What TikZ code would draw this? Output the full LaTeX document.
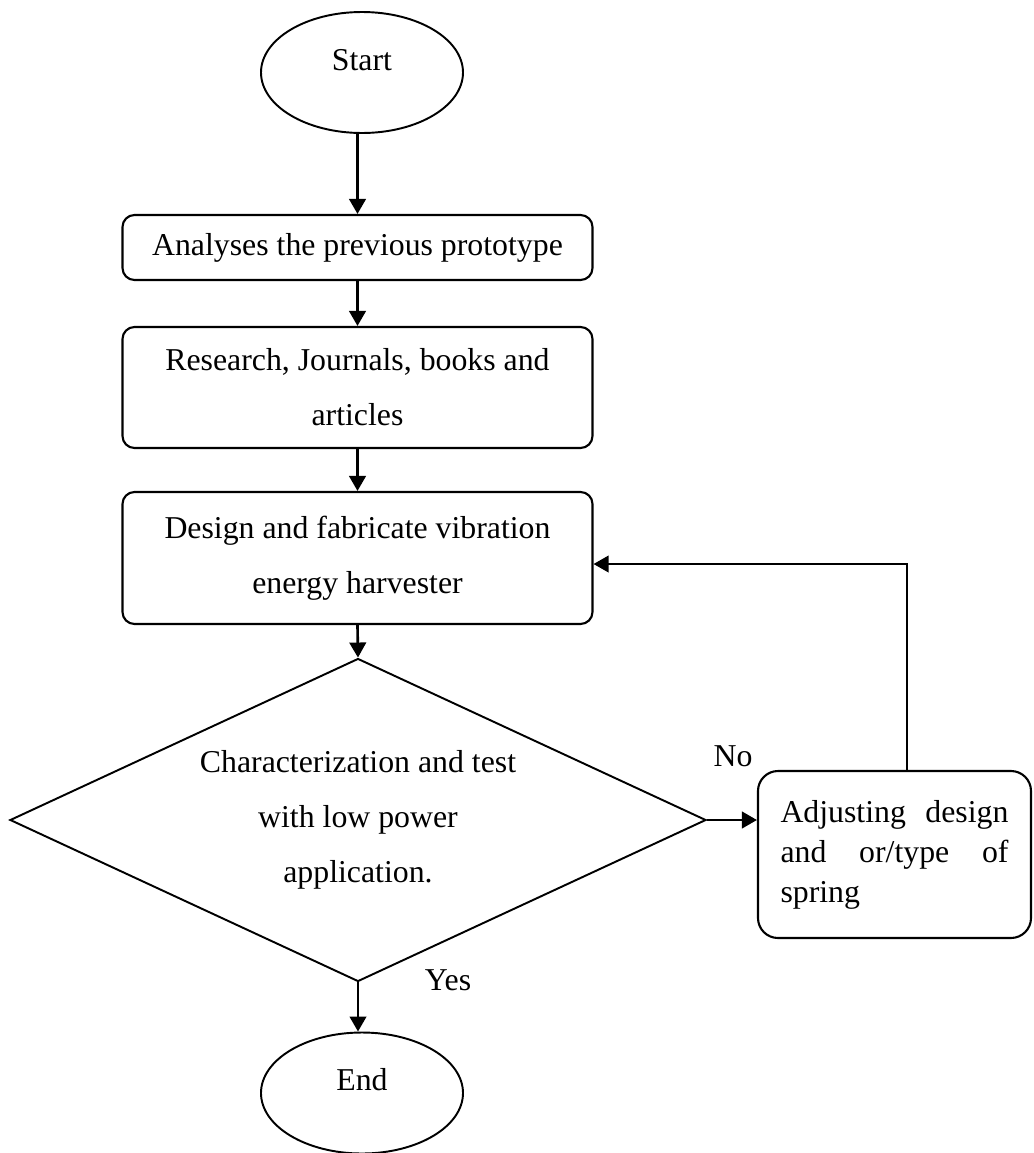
\documentclass[tikz,border=0pt]{standalone}
\usepackage{fontspec}
\setmainfont{Liberation Serif}
\usepackage{tikz}
\usetikzlibrary{shapes,shapes.geometric,arrows,arrows.meta,positioning}

\begin{document}
\begin{tikzpicture}[x=0.2mm, y=-0.2mm,
  every node/.style={font=\fontsize{18.1}{31.3}\selectfont},
  term/.style={draw, ellipse, line width=1.1pt, inner sep=0, minimum width=40.4mm, minimum height=24.2mm, text height=4.3mm, text depth=5.3mm},
  procbox/.style={draw, rectangle, rounded corners=2.4mm, line width=1.2pt, minimum width=94mm, align=center},
  decide/.style={draw, diamond, line width=1.1pt, inner sep=0, aspect=2.155, minimum width=139.2mm, minimum height=64.6mm, align=center},
  flow/.style={-{Triangle[length=3mm,width=3.3mm]}, line width=1.5pt},
  back/.style={-{Triangle[length=3mm,width=3.3mm]}, line width=1.2pt}]
\useasboundingbox (0,0) rectangle (1033,1153);
% main column
\node[term] (start) at (362,72.5) {Start};
\node[procbox, minimum height=13mm] (an1) at (357.5,247.5) {Analyses the previous prototype};
\node[procbox, minimum height=24.2mm] (res) at (357.5,387.5) {Research, Journals, books and\\articles};
\node[procbox, minimum height=26.4mm] (des) at (357.5,558) {Design and fabricate vibration\\energy harvester};
\node[decide] (dia) at (358,820) {Characterization and test\\with low power\\application.};
\node[term] (end) at (362,1093) {End};
% side branch
\node[procbox, rounded corners=4mm, minimum width=54.6mm, minimum height=33.4mm, text width=45.6mm, align=left, font=\fontsize{18.1}{22.8}\selectfont] (adj) at (894.5,854.5) {Adjusting\hfill design\\and\hfill or/type\hfill of\\spring};
\node[anchor=base] (no) at (733,766) {No};
\node[anchor=base] (yes) at (448,990) {Yes};
\coordinate (fb) at (907,564);
% connectors
\draw[flow] (start.south -| an1.north) -- (an1.north);
\draw[flow] (an1.south) -- (res.north);
\draw[flow] (res.south) -- (des.north);
\draw[flow] (des.south) -- (dia.north);
\draw[flow] (dia.east) -- (dia.east -| adj.west);
\draw[flow] (dia.south) -- (dia.south |- end.north);
\draw[back] (adj.north -| fb) -- (fb) -- (fb -| des.east);
\end{tikzpicture}
\end{document}
